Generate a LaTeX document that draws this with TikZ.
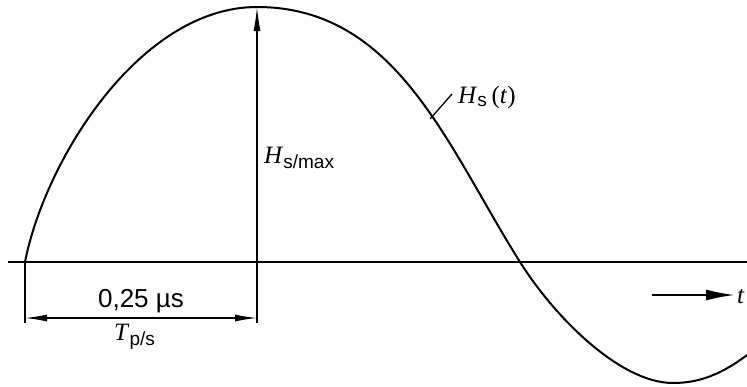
\documentclass[tikz,border=0pt]{standalone}
\usepackage{fontspec}
\setmainfont{Liberation Serif}
\setsansfont{Liberation Sans}
\usetikzlibrary{arrows.meta}
\tikzset{
  curve/.style={line width=2pt, line join=round},
  axisline/.style={line width=2.4pt},
  dimline/.style={line width=1.3pt},
  lbl/.style={inner sep=0pt, font=\fontsize{25}{28}\selectfont},
}
\newcommand{\subsf}[1]{\textsubscript{\sffamily\fontsize{19}{20}\selectfont #1}}
\begin{document}
\begin{tikzpicture}[x=1pt,y=-1pt]
\useasboundingbox (0,0) rectangle (747,386);
% axis
\coordinate (axL) at (8,262);
\coordinate (axR) at (747,262);
\draw[axisline] (axL) -- (axR);
% curve
\coordinate (c0) at (25,262);
\coordinate (c1) at (257,7);
\coordinate (c2) at (520,262);
\coordinate (c3) at (673,383);
\coordinate (c4) at (760,345);
\draw[curve] (c0) .. controls (45,160) and (140,7) .. (c1)
  .. controls (397,7) and (447.5,147) .. (c2)
  .. controls (554.6,317) and (620,383) .. (c3)
  .. controls (710,383) and (735,365) .. (c4);
% peak arrow
\coordinate (pkB) at (257,323);
\draw[dimline, -{Latex[length=24pt,width=7pt]}] (pkB) -- (c1);
% left extension line
\coordinate (exB) at (25,323);
\draw[dimline] (c0) -- (exB);
% dimension
\coordinate (dL) at (25,318);
\coordinate (dR) at (257,318);
\draw[dimline, {Latex[length=22pt,width=7pt]}-{Latex[length=22pt,width=7pt]}] (dL) -- (dR);
\node[lbl, font=\sffamily\fontsize{26}{28}\selectfont, anchor=base] (dur) at (141,307) {0,25 µs};
\node[lbl, anchor=base west] (tps) at (114,340) {\textit{T}\subsf{p/s}};
% labels
\node[lbl, anchor=base west] (hmax) at (264,163) {\textit{H}\subsf{s/max}};
\node[lbl, anchor=base west] (hst) at (458,103) {\textit{H}\subsf{s}\,(\textit{t})};
\coordinate (ldA) at (430,119);
\coordinate (ldB) at (452,94);
\draw[dimline] (ldA) -- (ldB);
% time arrow
\coordinate (tA) at (652,295);
\coordinate (tB) at (734,295);
\draw[dimline, -{Latex[length=28pt,width=11pt]}] (tA) -- (tB);
\node[lbl, anchor=base west] (tt) at (737,303) {\textit{t}};
\end{tikzpicture}
\end{document}
